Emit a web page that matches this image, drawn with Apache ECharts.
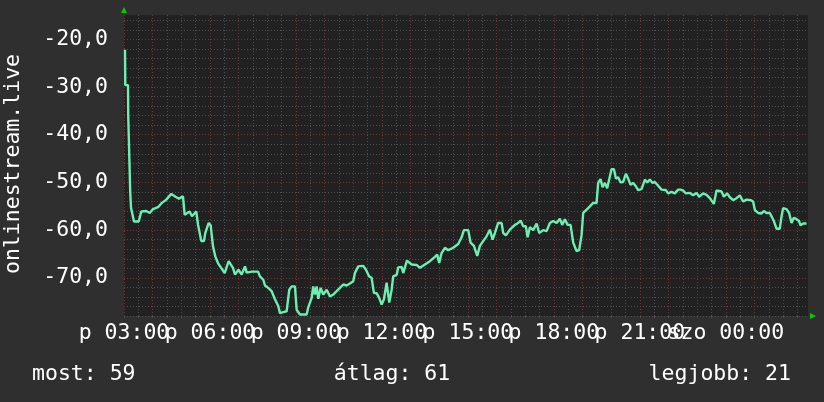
<!DOCTYPE html>
<html>
<head>
<meta charset="utf-8">
<script src="https://cdn.jsdelivr.net/npm/echarts@6/dist/echarts.min.js"></script>
<style>html,body{margin:0;padding:0;background:#2f2f2f;}#c{width:824px;height:402px;}</style>
</head>
<body>
<div id="c"></div>
<script>
// minutes since Friday 03:00
const MINUTES = [2.1, 2.7, 8.4, 8.8, 11.9, 13.0, 14.7, 20.9, 30.8, 36.2, 46.7, 53.8, 60.7, 71.2, 78.1, 88.5, 99.0, 109.5, 115.1, 123.5, 127.0, 137.5, 142.3, 151.3, 154.9, 161.8, 167.4, 170.2, 177.3, 181.5, 186.3, 191.1, 196.7, 210.8, 219.1, 228.1,
232.3, 239.6, 246.3, 253.3, 256.8, 267.9, 280.5, 284.6, 291.6, 295.1, 302.0, 309.1, 316.0, 322.9, 326.5, 333.4, 340.5, 346.0, 351.0, 357.9, 361.5, 368.4, 382.4, 385.7, 392.9, 396.2, 399.8, 403.3, 406.7, 411.7, 417.1, 424.3, 431.2, 438.1, 445.2, 452.1, 459.0, 466.1, 473.0, 479.9,
483.5, 490.4, 500.9, 506.5, 513.4, 518.4, 523.3, 528.9, 534.3, 539.4, 544.2, 549.8, 555.3, 560.3, 563.6, 570.8, 574.1, 581.2, 584.6, 592.3, 602.2, 612.6, 619.5, 630.0, 640.5, 650.9, 655.7, 659.9, 664.9, 671.9, 678.8, 689.2, 699.7, 706.8, 711.6, 720.6, 725.6, 732.6, 739.5, 745.1,
752.0, 759.1, 766.0, 771.7, 776.5, 783.4, 790.5, 793.9, 799.5, 807.9, 818.4, 825.3, 830.3, 835.7, 841.4, 844.9, 849.8, 856.7, 863.8, 869.2, 877.6, 884.7, 891.6, 898.5, 905.6, 912.5, 917.4, 923.0, 928.7, 934.9, 940.4, 947.5, 952.9, 958.0, 961.3, 971.8, 975.3, 982.3, 989.4, 992.7,
997.7, 1001.9, 1006.7, 1011.6, 1015.7, 1020.8, 1025.6, 1029.8, 1034.6, 1039.6, 1045.0, 1050.7, 1055.5, 1060.5, 1066.0, 1071.6, 1076.4, 1083.5, 1090.5, 1095.3, 1100.9, 1106.6, 1111.4, 1118.3, 1125.4, 1134.4, 1139.2, 1146.3, 1153.2, 1160.2,
1165.2, 1170.6, 1176.3, 1184.6, 1191.6, 1198.7, 1204.1, 1212.5, 1219.6, 1226.5, 1234.9, 1240.5, 1251.0, 1255.8, 1262.7, 1268.4, 1275.3, 1282.4, 1289.3, 1296.2, 1303.3, 1311.7, 1317.1, 1320.7, 1327.6, 1334.7, 1339.5, 1345.2, 1352.1, 1355.6,
1360.5, 1366.1, 1373.0, 1376.6, 1379.9, 1387.0, 1392.5, 1397.5, 1402.3, 1407.9, 1413.4, 1416.3, 1421.8, 1428.9];

const VALUES = [-22.2, -29.6, -29.6, -35.8, -35.8, -51.9, -55.3, -58.2, -58.2, -56.1, -56.0, -56.4, -55.6, -55.2, -54.4, -53.6, -52.4, -53.1, -53.4, -52.9, -56.8, -56.1, -57.1, -56.1, -58.8, -62.3, -62.3, -60.6, -58.5, -59.0, -63.4, -65.5, -66.9, -69.0, -66.5, -67.9,
-69.3, -68.3, -69.3, -67.6, -68.9, -68.7, -68.7, -69.7, -70.4, -71.6, -72.1, -72.8, -74.5, -75.9, -77.4, -77.2, -77.0, -72.5, -71.8, -71.8, -76.7, -77.7, -77.7, -76.2, -74.2, -71.8, -73.5, -71.8, -74.4, -72.1, -73.5, -72.5, -73.9, -73.5, -72.8, -72.1, -71.4, -71.6, -71.2, -70.7,
-69.0, -67.6, -67.5, -68.3, -69.7, -70.0, -73.2, -73.2, -74.2, -75.6, -74.5, -71.0, -75.2, -72.5, -69.7, -69.4, -67.8, -67.7, -69.0, -66.4, -67.2, -67.3, -67.9, -67.2, -66.5, -65.6, -65.1, -66.9, -64.8, -63.7, -64.2, -63.7, -62.9, -61.5, -60.0, -60.0, -62.6, -63.3, -65.4, -63.3,
-62.3, -61.3, -59.9, -62.0, -60.6, -58.5, -58.5, -60.6, -61.1, -59.9, -58.9, -58.5, -58.0, -59.2, -59.2, -61.5, -59.4, -60.0, -58.6, -60.6, -60.0, -60.2, -58.5, -58.1, -58.5, -57.6, -58.9, -57.7, -58.9, -58.9, -62.6, -64.4, -64.2, -61.0, -56.4, -55.4, -55.6, -54.3, -54.3, -50.1,
-49.3, -51.0, -50.1, -51.2, -49.4, -47.2, -47.2, -49.2, -48.9, -50.0, -49.9, -48.2, -49.2, -50.5, -50.1, -50.8, -51.6, -51.4, -49.4, -50.0, -49.4, -50.1, -49.9, -50.7, -51.5, -51.6, -52.3, -52.0, -52.3, -51.5,
-51.5, -51.7, -52.3, -52.2, -52.7, -52.2, -53.0, -52.3, -52.6, -53.3, -54.5, -51.7, -51.9, -53.0, -52.3, -53.1, -53.7, -53.3, -52.7, -54.0, -53.6, -53.7, -54.0, -55.8, -56.4, -56.5, -56.0, -56.4, -56.4, -57.1,
-58.1, -59.7, -59.7, -57.1, -55.4, -55.6, -56.4, -58.5, -57.4, -57.7, -58.1, -59.0, -58.6, -58.6];

const X_LABELS = ['p 03:00', 'p 06:00', 'p 09:00', 'p 12:00', 'p 15:00', 'p 18:00', 'p 21:00', 'szo 00:00'];
const Y_TITLE = 'onlinestream.live';
const LEGEND = ['most: 59', 'átlag: 61', 'legjobb: 21'];

const FONT = 'DejaVu Sans Mono';
const RED = '#733434';
const GRAY = '#4e4e4e';

const chart = echarts.init(document.getElementById('c'), null, {renderer: 'canvas'});
chart.setOption({
  backgroundColor: '#2f2f2f',
  animation: false,
  grid: {left: 124, right: 16, top: 15, bottom: 86, show: true, backgroundColor: '#212121', borderWidth: 0},
  xAxis: {
    type: 'value', min: 0, max: 1432, interval: 30,
    axisLine: {show: false},
    axisTick: {show: true, length: 2, lineStyle: {color: GRAY}},
    axisLabel: {
      interval: 0, showMinLabel: true, showMaxLabel: false,
      color: '#ffffff', fontFamily: FONT, fontSize: 21.5, margin: 6,
      formatter: function (v) { return (Math.abs(v % 180) < 1e-6) ? (X_LABELS[Math.round(v / 180)] || '') : ''; }
    },
    splitLine: {show: true, showMaxLine: false, lineStyle: {color: [RED, GRAY], type: [1, 2], width: 1}}
  },
  yAxis: {
    type: 'value', min: -78, max: -14.9, interval: 2,
    axisLine: {show: false},
    axisTick: {show: false},
    axisLabel: {
      interval: 0, showMinLabel: true, showMaxLabel: false,
      color: '#ffffff', fontFamily: FONT, fontSize: 21.5, margin: 16,
      formatter: function (v) { return (Math.abs(v % 10) < 1e-6) ? v.toFixed(1).replace('.', ',') : ''; }
    },
    splitLine: {show: true, showMaxLine: false, lineStyle: {color: [GRAY, GRAY, GRAY, GRAY, RED], type: [1, 2], width: 1}}
  },
  series: [{
    type: 'line',
    data: MINUTES.map((m, i) => [m, VALUES[i]]),
    showSymbol: false,
    lineStyle: {color: '#6cefb2', width: 2.4},
    z: 5
  }],
  graphic: [
    {type: 'text', x: 13, y: 164, rotation: Math.PI / 2,
     style: {text: Y_TITLE, fill: '#ffffff', font: '21.5px "DejaVu Sans Mono"', align: 'center', verticalAlign: 'middle'}},
    {type: 'text', x: 32, y: 374,
     style: {text: LEGEND[0], fill: '#ffffff', font: '21.5px "DejaVu Sans Mono"', align: 'left', verticalAlign: 'middle'}},
    {type: 'text', x: 392, y: 374,
     style: {text: LEGEND[1], fill: '#ffffff', font: '21.5px "DejaVu Sans Mono"', align: 'center', verticalAlign: 'middle'}},
    {type: 'text', x: 791, y: 374,
     style: {text: LEGEND[2], fill: '#ffffff', font: '21.5px "DejaVu Sans Mono"', align: 'right', verticalAlign: 'middle'}},
    {type: 'polygon', shape: {points: [[121, 13], [127, 13], [124, 7]]}, style: {fill: '#00cc00'}},
    {type: 'polygon', shape: {points: [[810, 313], [810, 319], [816, 316]]}, style: {fill: '#00cc00'}}
  ]
});
</script>
</body>
</html>
